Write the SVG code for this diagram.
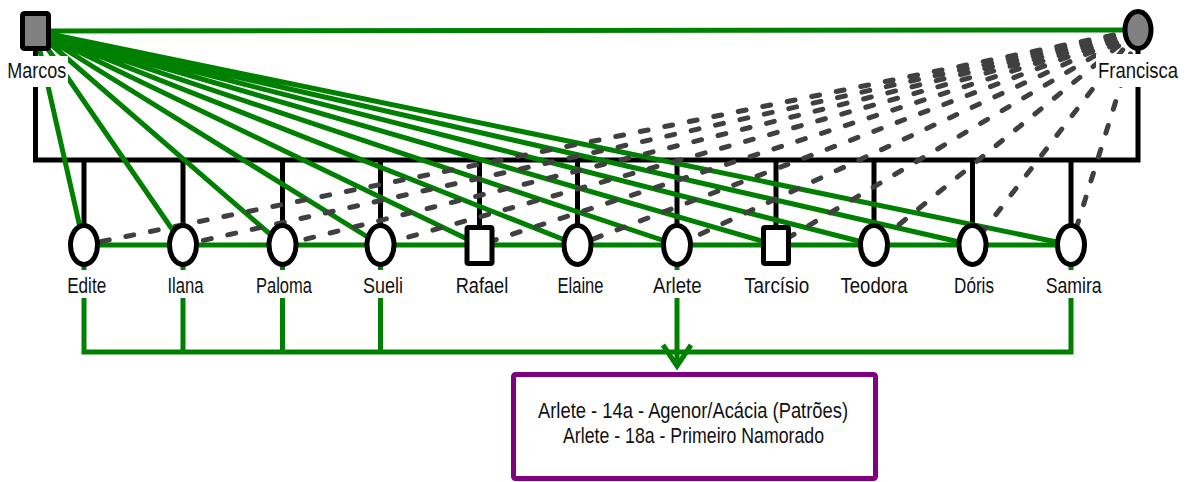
<svg xmlns="http://www.w3.org/2000/svg" width="1189" height="482" viewBox="0 0 1189 482">
<defs>
<style>
.lbl{font-family:"Liberation Sans",Arial,sans-serif;font-size:22px;fill:#111;text-anchor:middle}
.bg{fill:#fff;stroke:none}
.blk{fill:none;stroke:#000;stroke-width:5;stroke-linejoin:miter}
.grn{fill:none;stroke:#008000;stroke-width:5}
.dash{fill:none;stroke:#404040;stroke-width:5;stroke-dasharray:8 17;stroke-linecap:round}
.f{fill:#fff;stroke:#000;stroke-width:5}
.m{fill:#808080;stroke:#000;stroke-width:5}
</style>
<marker id="arr" markerUnits="userSpaceOnUse" markerWidth="40" markerHeight="40" refX="0" refY="0" orient="auto" overflow="visible">
<path d="M-21,-14 L0,0 L-21,14" fill="none" stroke="#008000" stroke-width="5"/>
</marker>
</defs>
<rect width="1189" height="482" fill="#fff"/>
<g id="connectors">
<line class="grn" x1="35.5" y1="31" x2="1138" y2="30"/>
<polyline class="blk" points="35.5,31 35.5,160 1138,160 1138,30"/>
<path class="blk" d="M84 160V245M183 160V245M282.5 160V245M380.5 160V245M479.5 160V245M577.5 160V245M677 160V245M776 160V245M874 160V245M972.5 160V245M1071 160V245"/>
<path class="grn" d="M35.5 31L84 245M35.5 31L183 245M35.5 31L282.5 245M35.5 31L380.5 245M35.5 31L479.5 245M35.5 31L577.5 245M35.5 31L677 245M35.5 31L776 245M35.5 31L874 245M35.5 31L972.5 245M35.5 31L1071 245"/>
<line class="grn" x1="84" y1="245" x2="1071" y2="245"/>
<path class="dash" d="M1138 30L84 245M1138 30L183 245M1138 30L282.5 245M1138 30L380.5 245M1138 30L479.5 245M1138 30L577.5 245M1138 30L677 245M1138 30L776 245M1138 30L874 245M1138 30L972.5 245M1138 30L1071 245"/>
<polyline class="grn" points="84,245 84,352 1071,352 1071,245"/>
<path class="grn" d="M183 245V352M282.5 245V352M380.5 245V352"/>
<line class="grn" x1="677" y1="245" x2="677" y2="366" marker-end="url(#arr)"/>
</g>
<g id="marcos">
<rect class="m" x="22.5" y="13.5" width="26" height="35" rx="2"/>
<rect class="bg" x="4" y="56" width="64" height="31"/>
<text class="lbl" x="36.7" y="77.5" textLength="59" lengthAdjust="spacingAndGlyphs">Marcos</text>
</g>
<g id="francisca">
<ellipse class="m" cx="1138" cy="30" rx="13" ry="18.5"/>
<rect class="bg" x="1096" y="54" width="84" height="33"/>
<text class="lbl" x="1138" y="77.5" textLength="80" lengthAdjust="spacingAndGlyphs">Francisca</text>
</g>
<g id="edite">
<ellipse class="f" cx="84" cy="245" rx="13.5" ry="19.5"/>
<rect class="bg" x="66" y="270" width="41" height="28"/>
<text class="lbl" x="86.7" y="293" textLength="39" lengthAdjust="spacingAndGlyphs">Edite</text>
</g>
<g id="ilana">
<ellipse class="f" cx="183" cy="245" rx="13.5" ry="19.5"/>
<rect class="bg" x="166" y="270" width="39" height="28"/>
<text class="lbl" x="185.5" y="293" textLength="36" lengthAdjust="spacingAndGlyphs">Ilana</text>
</g>
<g id="paloma">
<ellipse class="f" cx="282.5" cy="245" rx="13.5" ry="19.5"/>
<rect class="bg" x="255" y="270" width="58" height="28"/>
<text class="lbl" x="284" y="293" textLength="56" lengthAdjust="spacingAndGlyphs">Paloma</text>
</g>
<g id="sueli">
<ellipse class="f" cx="380.5" cy="245" rx="13.5" ry="19.5"/>
<rect class="bg" x="362" y="270" width="42" height="28"/>
<text class="lbl" x="383" y="293" textLength="40" lengthAdjust="spacingAndGlyphs">Sueli</text>
</g>
<g id="rafael">
<rect class="f" x="467" y="227.5" width="25" height="36" rx="1.5"/>
<rect class="bg" x="455" y="270" width="54" height="28"/>
<text class="lbl" x="482" y="293" textLength="52.5" lengthAdjust="spacingAndGlyphs">Rafael</text>
</g>
<g id="elaine">
<ellipse class="f" cx="577.5" cy="245" rx="13.5" ry="19.5"/>
<rect class="bg" x="556" y="270" width="49" height="28"/>
<text class="lbl" x="580.5" y="293" textLength="46" lengthAdjust="spacingAndGlyphs">Elaine</text>
</g>
<g id="arlete">
<ellipse class="f" cx="677" cy="245" rx="13.5" ry="19.5"/>
<rect class="bg" x="652" y="270" width="51" height="28"/>
<text class="lbl" x="677.3" y="293" textLength="48.5" lengthAdjust="spacingAndGlyphs">Arlete</text>
</g>
<g id="tarcisio">
<rect class="f" x="763.5" y="227.5" width="25" height="36" rx="1.5"/>
<rect class="bg" x="743" y="270" width="67" height="28"/>
<text class="lbl" x="776.7" y="293" textLength="65" lengthAdjust="spacingAndGlyphs">Tarcísio</text>
</g>
<g id="teodora">
<ellipse class="f" cx="874" cy="245" rx="13.5" ry="19.5"/>
<rect class="bg" x="840" y="270" width="68" height="28"/>
<text class="lbl" x="874" y="293" textLength="67" lengthAdjust="spacingAndGlyphs">Teodora</text>
</g>
<g id="doris">
<ellipse class="f" cx="972.5" cy="245" rx="13.5" ry="19.5"/>
<rect class="bg" x="953" y="270" width="42" height="28"/>
<text class="lbl" x="974" y="293" textLength="40" lengthAdjust="spacingAndGlyphs">Dóris</text>
</g>
<g id="samira">
<ellipse class="f" cx="1071" cy="245" rx="13.5" ry="19.5"/>
<rect class="bg" x="1045" y="270" width="58" height="28"/>
<text class="lbl" x="1073.7" y="293" textLength="56" lengthAdjust="spacingAndGlyphs">Samira</text>
</g>
<g id="nota">
<rect x="513.5" y="374.5" width="362" height="104" rx="2" fill="#fff" stroke="#800080" stroke-width="5"/>
<text class="lbl" x="693" y="417.5" textLength="310" lengthAdjust="spacingAndGlyphs">Arlete - 14a - Agenor/Acácia (Patrões)</text>
<text class="lbl" x="693.5" y="442.5" textLength="261" lengthAdjust="spacingAndGlyphs">Arlete - 18a - Primeiro Namorado</text>
</g>
</svg>
